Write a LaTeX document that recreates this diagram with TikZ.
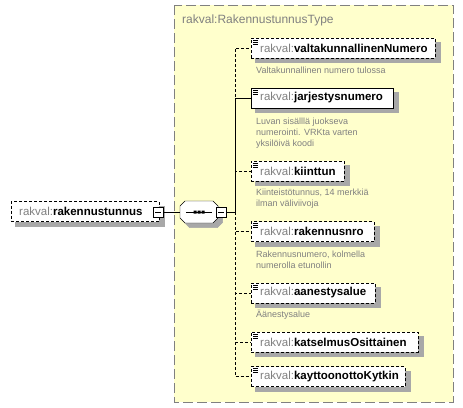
\documentclass[tikz,border=0pt]{standalone}
\usepackage{fontspec}
\setmainfont{Liberation Sans}
\definecolor{typefill}{RGB}{255,255,204}
\definecolor{nsgray}{RGB}{128,128,128}
\definecolor{elshade}{rgb}{0.66,0.66,0.66}
\newcommand{\elname}[1]{{\color{nsgray}rakval:}\textbf{#1}}
\pgfdeclarelayer{back}
\pgfdeclarelayer{shade}
\pgfsetlayers{back,shade,main}
\begin{document}
\begin{tikzpicture}[x=1pt,y=-1pt,line width=0.8pt,
  elem/.style={draw, fill=white, anchor=west, align=left, inner xsep=4pt, inner ysep=0pt, minimum height=20pt, font=\fontsize{11.5}{13}\selectfont},
  leaf/.style={elem, path picture={\foreach \k in {2,4,6} \draw[solid, line width=0.7pt] ([shift={(2,\k)}]path picture bounding box.north west) -- ++(5,0);}},
  opt/.style={dash pattern=on 3pt off 2pt},
  desc/.style={anchor=north west, align=left, inner sep=0pt, text=nsgray, font=\fontsize{9}{11}\selectfont},
  minus/.style={draw, fill=white, minimum size=10pt, inner sep=0pt, path picture={\draw ([xshift=2pt]path picture bounding box.west) -- ([xshift=-2pt]path picture bounding box.east);}},
  seqbox/.style={minimum width=38pt, minimum height=22pt, inner sep=0pt},
  shadefill/.style={fill=elshade, draw=elshade, line width=0.5pt}
]
\useasboundingbox (0,0) rectangle (463,407);
\begin{pgfonlayer}{back}
\draw[fill=typefill, draw=nsgray, dash pattern=on 10pt off 4pt] (174,5) rectangle (453,402);
\end{pgfonlayer}
\node[anchor=base west, inner sep=0pt, text=nsgray, font=\fontsize{12}{14}\selectfont] (title) at (182,23) {rakval:RakennustunnusType};

\coordinate (junc) at (235,212);
\draw[opt] (junc) |- (251,48);
\draw (junc) |- (251,98);
\draw[opt] (junc) |- (251,171);
\draw[opt] (junc) |- (251,231.5);
\draw[opt] (junc) |- (251,293);
\draw[opt] (junc) |- (251,342);
\draw[opt] (junc) |- (251,376.5);

\node[leaf, opt, text width=176pt] (valt) at (251,48) {\hspace*{5pt}\elname{valtakunnallinenNumero}};
\node[desc] (valtd) at (256,67) {Valtakunnallinen numero tulossa};
\node[leaf, text width=134pt] (jarj) at (251,98) {\hspace*{5pt}\elname{jarjestysnumero}};
\node[desc] (jarjd) at (256,117.4) {Luvan sisälllä juokseva\\numerointi. VRKta varten\\yksilöivä koodi};
\node[leaf, opt, text width=85pt] (kiin) at (251,171) {\hspace*{5pt}\elname{kiinttun}};
\node[desc] (kiind) at (256,188.7) {Kiinteistötunnus, 14 merkkiä\\ilman väliviivoja};
\node[leaf, opt, text width=115pt] (rnro) at (251,231.5) {\hspace*{5pt}\elname{rakennusnro}};
\node[desc] (rnrod) at (256,250.4) {Rakennusnumero, kolmella\\numerolla etunollin};
\node[leaf, opt, text width=116pt] (aan) at (251,293) {\hspace*{5pt}\elname{aanestysalue}};
\node[desc] (aand) at (256,310) {Äänestysalue};
\node[leaf, opt, text width=159pt] (kats) at (251,342) {\hspace*{5pt}\elname{katselmusOsittainen}};
\node[leaf, opt, text width=146pt] (kayt) at (251,376.5) {\hspace*{5pt}\elname{kayttoonottoKytkin}};

\node[elem, opt, text width=140pt] (rkt) at (11,211.5) {\hspace*{4pt}\elname{rakennustunnus}};
\node[minus] (rktm) at (158,212) {};
\node[seqbox] (seq) at (199,212) {};
\draw[fill=white] (185,201) -- (213,201) -- (218,206) -- (218,218) -- (213,223) -- (185,223) -- (180,218) -- (180,206) -- cycle;
\draw (seq.center) ++(-13,0) -- ++(26,0);
\fill (seq.center) ++(-5.5,-1.5) rectangle ++(3,3) ++(1,-3) rectangle ++(3,3) ++(1,-3) rectangle ++(3,3);
\node[minus] (seqm) at (221,212) {};
\draw (rktm.east) -- (seq.west);
\draw (seqm.east) -- (junc);

\begin{pgfonlayer}{shade}
\foreach \n in {valt,jarj,kiin,rnro,aan,kats,kayt,rkt}
  \filldraw[shadefill] ([shift={(4.5,4.5)}]\n.north west) rectangle ([shift={(4.5,4.5)}]\n.south east);
\filldraw[shadefill, shift={(4.5,4.5)}] (185,201) -- (213,201) -- (218,206) -- (218,218) -- (213,223) -- (185,223) -- (180,218) -- (180,206) -- cycle;
\end{pgfonlayer}
\end{tikzpicture}
\end{document}
